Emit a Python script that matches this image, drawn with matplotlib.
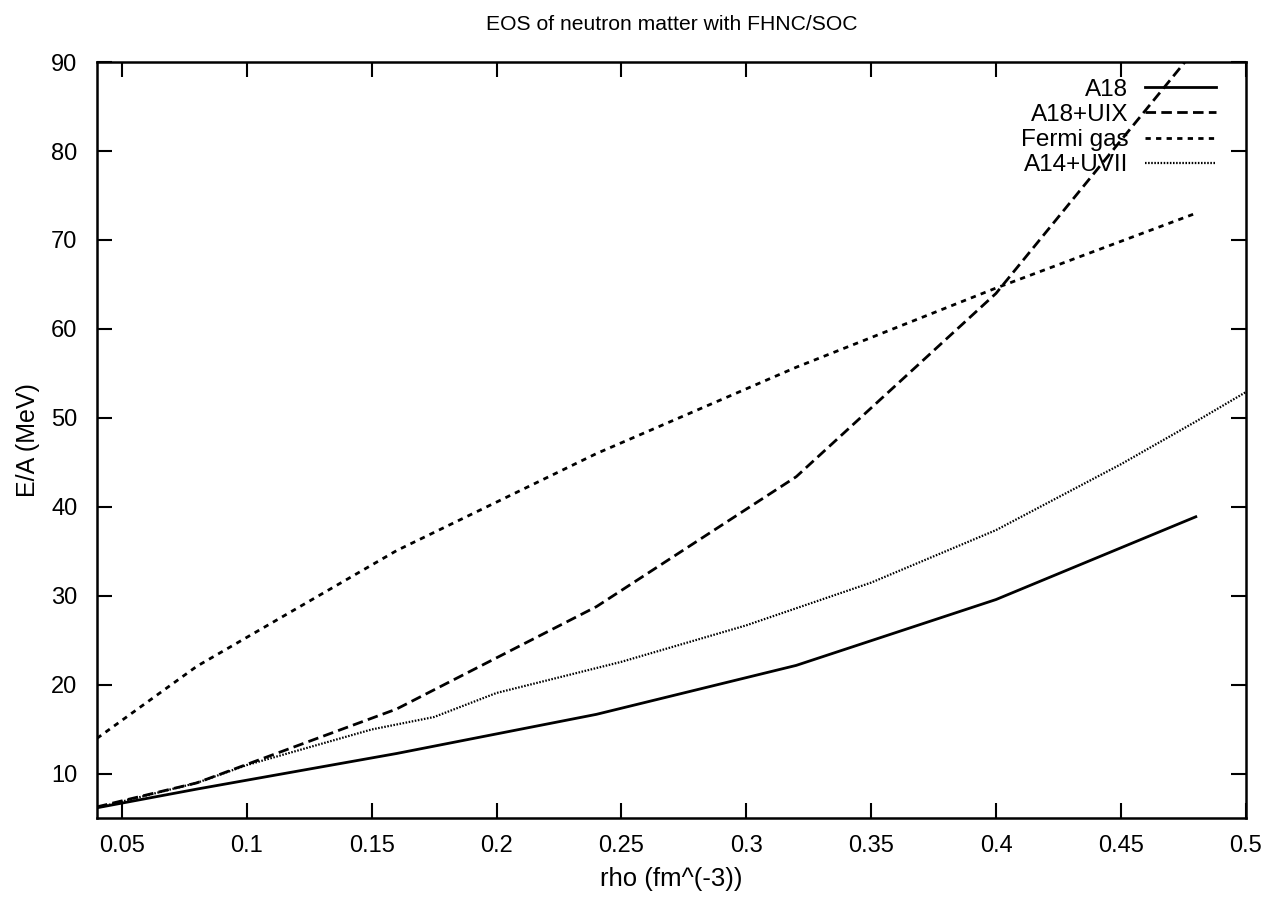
import matplotlib
matplotlib.use("Agg")
import matplotlib.pyplot as plt

plt.rcParams['font.family'] = ['Liberation Sans', 'DejaVu Sans']

# densities (fm^-3) and E/A (MeV)
rho_a18 = [0.04, 0.08, 0.16, 0.24, 0.32, 0.40, 0.48]
ea_a18 = [6.2, 8.3, 12.3, 16.7, 22.2, 29.6, 38.9]

rho_uix = [0.04, 0.08, 0.16, 0.24, 0.32, 0.40, 0.48]
ea_uix = [6.3, 9.0, 17.3, 28.8, 43.4, 64.0, 91.5]

rho_fermi = [0.04, 0.08, 0.16, 0.24, 0.32, 0.40, 0.48]
ea_fermi = [14.0, 22.1, 35.1, 46.0, 55.7, 64.6, 73.0]

rho_a14 = [0.04, 0.08, 0.10, 0.15, 0.175, 0.20, 0.25, 0.30, 0.35, 0.40, 0.45, 0.48, 0.50]
ea_a14 = [6.2, 9.0, 11.0, 15.0, 16.4, 19.1, 22.6, 26.7, 31.5, 37.4, 44.8, 49.6, 52.9]

xticks = [0.05, 0.1, 0.15, 0.2, 0.25, 0.3, 0.35, 0.4, 0.45, 0.5]
yticks = [10, 20, 30, 40, 50, 60, 70, 80, 90]

fig = plt.figure(figsize=(12.79, 9.0), dpi=100)
ax = fig.add_axes([0.0758, 0.0906, 0.8982, 0.8405])

ax.plot(rho_a18, ea_a18, color='black', lw=2.0, label='A18')
ax.plot(rho_uix, ea_uix, color='black', lw=2.0, dashes=(3.8, 1.9), label='A18+UIX')
ax.plot(rho_fermi, ea_fermi, color='black', lw=2.0, dashes=(1.9, 1.9), label='Fermi gas')
ax.plot(rho_a14, ea_a14, color='black', lw=1.6, dashes=(0.7, 0.7), label='A14+UVII')

ax.set_xlim(0.04, 0.5)
ax.set_ylim(5, 90)
ax.set_xticks(xticks)
ax.set_xticklabels([f'{t:g}' for t in xticks])
ax.set_yticks(yticks)
ax.tick_params(direction='in', length=11, width=1.5, top=True, right=True,
               labelsize=17, pad=12)
ax.tick_params(axis='y', pad=14)
for s in ax.spines.values():
    s.set_linewidth(1.8)

ax.set_title('EOS of neutron matter with FHNC/SOC', fontsize=15.2, pad=23)
ax.set_xlabel('rho (fm^(-3))', fontsize=18.5, labelpad=7)
ax.set_ylabel('E/A (MeV)', fontsize=18, labelpad=8)

ax.legend(loc='upper right', frameon=False, markerfirst=False, fontsize=17.5,
          handlelength=2.9, handletextpad=0.7, labelspacing=0.13,
          borderaxespad=0, borderpad=0, bbox_to_anchor=(0.974, 0.978))

fig.savefig('out.png', dpi=100)
